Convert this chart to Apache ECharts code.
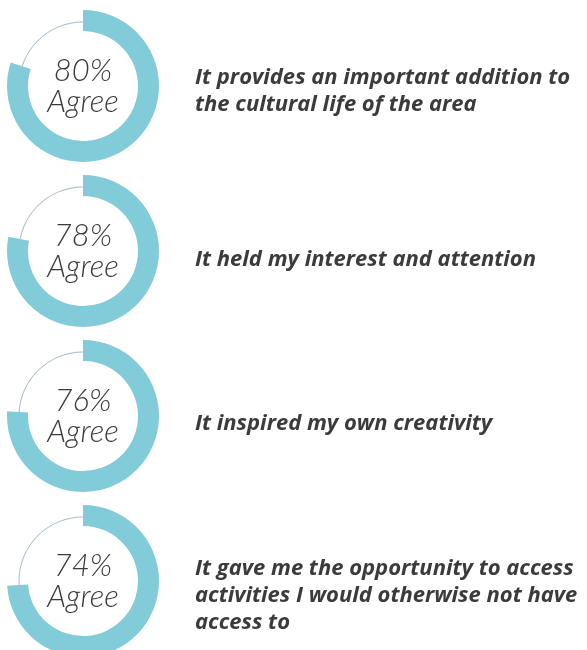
<!DOCTYPE html>
<html>
<head>
<meta charset="utf-8">
<script src="https://cdn.jsdelivr.net/npm/echarts@6/dist/echarts.min.js"></script>
<style>
html,body{margin:0;padding:0;background:#fff;}
#chart{width:587px;height:650px;}
</style>
</head>
<body>
<div id="chart"></div>
<script>
// ---- data ----
const agreeValues = [80, 78, 76, 74];
const agreeWord = 'Agree';
const statements = [
  'It provides an important addition to\nthe cultural life of the area',
  'It held my interest and attention',
  'It inspired my own creativity',
  'It gave me the opportunity to access\nactivities I would otherwise not have\naccess to'
];

// ---- layout ----
const cx = 83, cy0 = 86, step = 165;
const textX = 195;
const textCenters = [91, 260, 424, 596];
const ringColor = '#82cbd9';
const thinColor = '#a7bdc8';

const chart = echarts.init(document.getElementById('chart'), null, {renderer: 'canvas'});
const series = [];
const graphics = [];
agreeValues.forEach((v, i) => {
  const cy = cy0 + i * step;
  series.push({
    type: 'pie', silent: true, z: 1,
    center: [cx, cy], radius: [63.5, 64.5],
    label: {show: false}, labelLine: {show: false},
    itemStyle: {color: thinColor, borderWidth: 0},
    data: [{value: 100}]
  });
  series.push({
    type: 'pie', silent: true, z: 2,
    center: [cx, cy], radius: [55, 76],
    startAngle: 90, clockwise: true,
    labelLine: {show: false},
    itemStyle: {borderWidth: 0},
    data: [
      {value: v, itemStyle: {color: ringColor},
       label: {show: true, position: 'center',
         formatter: (p) => p.value + '%\n' + agreeWord,
         fontFamily: 'Lato', fontStyle: 'italic', fontWeight: 300, fontSize: 31,
         lineHeight: 31, color: '#3a3a3a', padding: [4, 0, 0, 0]}},
      {value: 100 - v, itemStyle: {color: 'rgba(0,0,0,0)'}, label: {show: false}}
    ]
  });
  graphics.push({
    type: 'text', left: textX, top: textCenters[i] - (statements[i].split('\n').length * 27) / 2,
    silent: true,
    style: {
      text: statements[i],
      fontFamily: 'Open Sans', fontStyle: 'italic', fontWeight: 'bold', fontSize: 22,
      lineHeight: 27, fill: '#3b3b3b'
    }
  });
});

chart.setOption({
  animation: false,
  backgroundColor: '#ffffff',
  series: series,
  graphic: graphics
});
</script>
</body>
</html>
